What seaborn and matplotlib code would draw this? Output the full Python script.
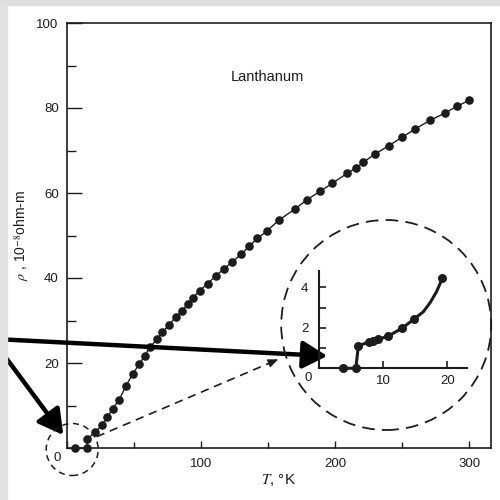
import matplotlib
matplotlib.use("Agg")
import matplotlib.pyplot as plt
import numpy as np
import pandas as pd
import seaborn as sns
from matplotlib.patches import Circle, Rectangle
from matplotlib.lines import Line2D

# ---- data ----
T_main = [6, 15, 15, 21, 26, 30, 34, 39, 44, 49, 54, 58, 62, 67, 71, 76, 81, 86,
          90, 94, 99, 105, 111, 117, 123, 130, 136, 142, 149, 158, 170, 179, 189,
          198, 209, 216, 221, 230, 240, 250, 260, 271, 282, 291, 300]
rho_main = [0, 0, 2.1, 3.7, 5.4, 7.2, 9.2, 11.4, 14.6, 17.4, 19.8, 21.7, 23.7,
            25.6, 27.2, 28.9, 30.8, 32.3, 33.9, 35.4, 37.0, 38.7, 40.5, 42.1,
            43.7, 45.6, 47.5, 49.3, 51.0, 53.6, 56.2, 58.4, 60.4, 62.3, 64.6,
            66.0, 67.2, 69.2, 71.1, 73.1, 75.1, 77.1, 78.8, 80.4, 81.8]

T_inset = [3.75, 5.7, 6.1, 7.7, 8.4, 9.2, 10.8, 12.9, 14.8, 19.2]
rho_inset = [0, 0, 1.12, 1.29, 1.37, 1.43, 1.6, 1.98, 2.44, 4.45]
# traced positions of the drawn curve between the last two inset points
T_curve = [14.8, 16.25, 17.3, 18.3, 19.2]
rho_curve = [2.44, 2.8, 3.25, 3.79, 4.45]

main_xticks = [0, 100, 200, 300]
main_xticklabels = ["", "100", "200", "300"]
main_yticks = [0, 20, 40, 60, 80, 100]
main_yticklabels = ["", "20", "40", "60", "80", "100"]
inset_xticks = [0, 10, 20]
inset_xticklabels = ["", "10", "20"]
inset_yticks = [0, 2, 4]
inset_yticklabels = ["", "2", "4"]

title_text = "Lanthanum"
xlabel_text = r"$\mathit{T}$, °K"
ylabel_text = r"$\rho$ , 10$^{-8}$ohm-m"

# ---- style ----
sns.set_theme(style="ticks")
plt.rcParams["font.family"] = ["Liberation Sans", "DejaVu Sans"]
plt.rcParams["mathtext.fontset"] = "stix"
INK = "#1c1c1c"

fig = plt.figure(figsize=(5, 5), dpi=100)
fig.patch.set_facecolor("white")
W = H = 500.0


def fx(px):
    return px / W


def fy(py):
    return 1 - py / H


# scan-like gray margin
fig.patches.append(Rectangle((0, 0), fx(7), 1, transform=fig.transFigure,
                             color="#e2e2e2", zorder=0))
fig.patches.append(Rectangle((0, fy(5)), 1, 5 / H, transform=fig.transFigure,
                             color="#dedede", zorder=0))

# ---- main axes ----
ax = fig.add_axes([fx(67), fy(448), fx(491) - fx(67), fy(23) - fy(448)])
df_main = pd.DataFrame({"T": T_main, "rho": rho_main})
sns.lineplot(data=df_main, x="T", y="rho", ax=ax, sort=False, estimator=None,
             color=INK, lw=1.0, marker="o", markersize=6.2,
             markeredgewidth=0, markerfacecolor=INK, clip_on=False, zorder=3)
ax.set_xlim(0, 316.4)
ax.set_ylim(0, 100)
ax.set_xticks(main_xticks)
ax.set_xticklabels(main_xticklabels)
ax.set_xticks([50, 150, 250], minor=True)
ax.set_yticks(main_yticks)
ax.set_yticklabels(main_yticklabels)
ax.set_yticks([10, 30, 50, 70, 90], minor=True)
ax.tick_params(axis="y", which="major", direction="in", length=11, width=1.0,
               pad=6, labelsize=9.5, colors=INK)
ax.tick_params(axis="y", which="minor", direction="in", length=6.5, width=1.0,
               colors=INK)
ax.tick_params(axis="x", which="major", direction="in", length=5, width=1.0,
               pad=7, labelsize=9.5, colors=INK)
ax.tick_params(axis="x", which="minor", direction="in", length=4, width=1.0,
               colors=INK)
for s in ax.spines.values():
    s.set_visible(True)
    s.set_color(INK)
    s.set_linewidth(1.2)
ax.set_xlabel(xlabel_text, fontsize=11, color=INK, labelpad=2)
ax.set_ylabel(ylabel_text, fontsize=10, color=INK, labelpad=4)
ax.text(0.472, 0.873, title_text, transform=ax.transAxes, ha="center",
        va="center", fontsize=10.5, color=INK)
ax.annotate("0", xy=(0, 0), xycoords="data", xytext=(-7, -7),
            textcoords="offset points", ha="center", va="center",
            fontsize=9.5, color=INK)
ax.set_facecolor("white")

# ---- inset axes ----
ins = fig.add_axes([fx(319.3), fy(368.3), fx(467.3) - fx(319.3),
                    fy(270.7) - fy(368.3)])
ins.patch.set_visible(False)
sns.lineplot(x=T_inset[:-1] + T_curve[1:], y=rho_inset[:-1] + rho_curve[1:],
             ax=ins, sort=False, estimator=None, color=INK, lw=2.2,
             clip_on=False, zorder=3)
sns.scatterplot(x=T_inset, y=rho_inset, ax=ins, color=INK, s=42,
                linewidth=0, clip_on=False, zorder=4)
ins.set_xlim(0, 23.1)
ins.set_ylim(0, 4.83)
ins.set_xticks(inset_xticks)
ins.set_xticklabels(inset_xticklabels)
ins.set_yticks(inset_yticks)
ins.set_yticklabels(inset_yticklabels)
ins.set_yticks([1, 3], minor=True)
ins.tick_params(axis="both", which="both", direction="in", length=5,
                width=1.2, labelsize=9.5, colors=INK)
ins.tick_params(axis="y", pad=8)
ins.tick_params(axis="x", pad=5)
for side in ("top", "right"):
    ins.spines[side].set_visible(False)
for side in ("left", "bottom"):
    ins.spines[side].set_color(INK)
    ins.spines[side].set_linewidth(1.5)
ins.set_xlabel("")
ins.set_ylabel("")
ins.annotate("0", xy=(0, 0), xycoords="data", xytext=(-8, -7),
             textcoords="offset points", ha="center", va="center",
             fontsize=9.5, color=INK)

# ---- dashed circles ----
big = Circle((fx(386.2), fy(325)), 105 / W, transform=fig.transFigure,
             fill=False, ec=INK, lw=1.3, ls=(0, (7, 4)), zorder=5)
small = Circle((fx(72.2), fy(449.5)), 26 / W, transform=fig.transFigure,
               fill=False, ec=INK, lw=1.1, ls=(0, (4, 3)), zorder=5)
fig.patches.extend([big, small])

# dashed connector with small arrowhead
fig.lines.append(Line2D([fx(96.7), fx(272)], [fy(436.7), fy(362)],
                        transform=fig.transFigure, color=INK, lw=1.2,
                        ls=(0, (5, 3.5))))
ax.annotate("", xy=(278.3, H - 359.3), xycoords="figure pixels",
            xytext=(268, H - 363.6), textcoords="figure pixels",
            arrowprops=dict(arrowstyle="-|>,head_length=0.6,head_width=0.25",
                            color=INK, lw=1.0, shrinkA=0, shrinkB=0,
                            mutation_scale=10))

# thick black arrows
arrow_kw = dict(arrowstyle="-|>,head_length=0.75,head_width=0.42",
                color="black", lw=3.2, shrinkA=0, shrinkB=0,
                mutation_scale=20)
ax.annotate("", xy=(327.3, H - 356), xycoords="figure pixels",
            xytext=(-5, H - 339), textcoords="figure pixels",
            arrowprops=arrow_kw, annotation_clip=False)
ax.annotate("", xy=(63.3, H - 435), xycoords="figure pixels",
            xytext=(-5, H - 343), textcoords="figure pixels",
            arrowprops=arrow_kw, annotation_clip=False)

fig.savefig("out.png", dpi=100, facecolor=fig.get_facecolor())
